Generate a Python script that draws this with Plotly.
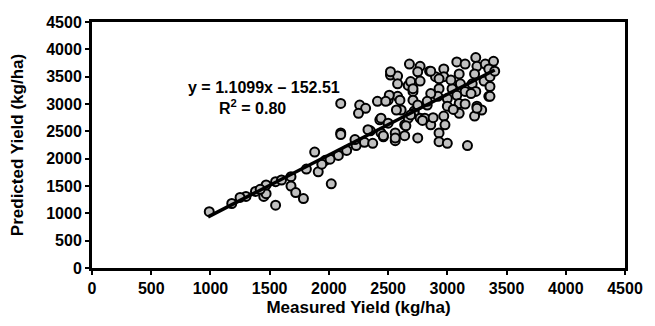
import plotly.graph_objects as go

measured = [990, 1180, 1300, 1380, 1450, 1470, 1470, 1550, 1550, 1600, 1680, 1680, 1720, 1785, 1810,
            1910, 1880, 1970, 2020, 2080, 1940, 2010, 2150, 2230, 2300, 2370, 2220, 2350, 2460, 2560,
            2560, 2100, 2100, 2430, 2330, 2440,
            2100, 2260, 2310, 2250, 2410, 2500, 2580, 2520, 2580, 2680, 2670, 2640, 2720, 2610, 2710,
            2520, 2770, 2850, 2750, 2970, 3080, 3150, 3240, 3250, 3320, 3390, 3350, 3230, 3100, 2970,
            2900, 2690, 2580, 2510, 2710, 2710, 2930, 2930, 3040, 3110, 3210, 3310, 3360, 3360, 3350,
            3240, 3150, 3080, 3000, 2920, 2860, 3250, 3290, 3230, 3100, 3000, 2970, 2830, 2750, 2720,
            2770, 2670, 2570, 2480, 2440,
            2930, 2930, 3000, 3170, 2750, 2640, 2560, 2460, 2980, 3100, 2830, 2690, 2810, 2860, 2600,
            2770, 2860, 3400, 3360, 3250, 3030, 3200, 1250, 1420, 2650, 2790, 2880, 3050, 3150, 2500]
predicted = [1030, 1180, 1310, 1400, 1310, 1360, 1520, 1150, 1580, 1610, 1670, 1500, 1380, 1270, 1810,
             1760, 2120, 1970, 1540, 2060, 1900, 1990, 2150, 2240, 2300, 2280, 2350, 2510, 2400, 2470,
             2330, 2470, 2440, 2710, 2530, 2470,
             3010, 2980, 2920, 2830, 3050, 3070, 3140, 3530, 3510, 3730, 3340, 2620, 2870, 2890, 3230,
             3590, 3690, 3600, 3590, 3640, 3770, 3730, 3850, 3690, 3730, 3780, 3640, 3550, 3550, 3500,
             3500, 3410, 3370, 3160, 3280, 3070, 3460, 3280, 3280, 3370, 3370, 3420, 3500, 3320, 3140,
             3230, 3230, 3160, 3100, 3140, 3190, 2960, 2890, 2780, 3010, 2960, 2780, 2980, 2980, 2830,
             2740, 2740, 2890, 3050, 2740,
             2470, 2310, 2280, 2240, 2380, 2420, 2380, 2420, 2620, 2830, 3050, 2800, 2740, 2620, 3070,
             3420, 3600, 3600, 3140, 2920, 3440, 3190, 1290, 1440, 2600, 2700, 2750, 2900, 3000, 2650]

slope = 1.1099
intercept = -152.51
fit_x = [980, 3400]
fit_y = [slope * v + intercept for v in fit_x]

tick_vals = [0, 500, 1000, 1500, 2000, 2500, 3000, 3500, 4000, 4500]
tick_text = [str(v) for v in tick_vals]

font_family = "Liberation Sans, Arial, sans-serif"

W, H = 655, 326
ML, MR, MT, MB = 92, 26, 22, 53

fig = go.Figure()
fig.add_trace(go.Scatter(
    x=measured, y=predicted, mode="markers",
    marker=dict(symbol="circle", size=9, color="#c0c0c0", line=dict(color="black", width=2)),
    showlegend=False, hoverinfo="x+y"))
fig.add_trace(go.Scatter(
    x=fit_x, y=fit_y, mode="lines", line=dict(color="black", width=3.5),
    showlegend=False))

axis_common = dict(
    range=[0, 4500], tickvals=tick_vals, ticktext=tick_text,
    showline=True, linecolor="black", linewidth=3, mirror=True,
    ticks="outside", ticklen=4, tickwidth=2, tickcolor="black",
    showgrid=False, zeroline=False,
    tickfont=dict(family=font_family, size=16, color="black", weight="bold"),
)

def px_to_paper(px, py):
    return (px - ML) / (W - ML - MR), (H - MB - py) / (H - MT - MB)

ax1, ay1 = px_to_paper(265, 89)
ax2, ay2 = px_to_paper(254, 109)

fig.update_layout(
    width=W, height=H,
    margin=dict(l=ML, r=MR, t=MT, b=MB),
    paper_bgcolor="white", plot_bgcolor="white",
    xaxis=dict(**axis_common,
               title=dict(text="Measured Yield (kg/ha)", standoff=5,
                          font=dict(family=font_family, size=17, color="black", weight="bold"))),
    yaxis=dict(**axis_common,
               title=dict(text="Predicted Yield (kg/ha)", standoff=19,
                          font=dict(family=font_family, size=17, color="black", weight="bold"))),
    annotations=[
        dict(x=ax1, y=ay1, xref="paper", yref="paper", xanchor="center", yanchor="middle",
             text="y = 1.1099x \u2013 152.51", showarrow=False,
             font=dict(family=font_family, size=16, color="black", weight="bold")),
        dict(x=ax2, y=ay2, xref="paper", yref="paper", xanchor="center", yanchor="middle",
             text="R<sup>2</sup> = 0.80", showarrow=False,
             font=dict(family=font_family, size=16, color="black", weight="bold")),
    ],
)

fig.write_html("out.html", config={"displayModeBar": False},
               post_script="document.body.style.margin='0';")
